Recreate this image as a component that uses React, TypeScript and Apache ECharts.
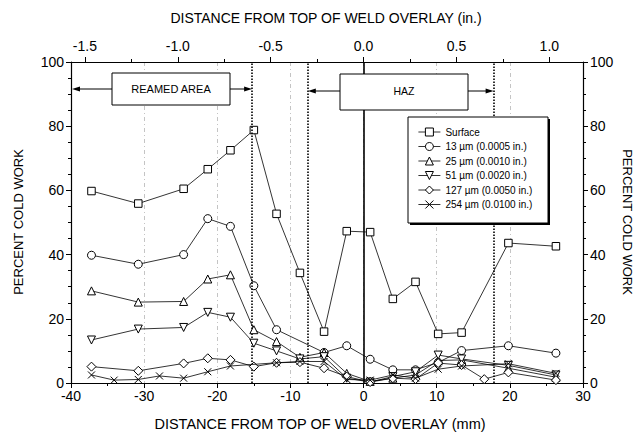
import React, { useEffect, useRef } from "react";
import * as echarts from "echarts";

// Measurement positions along the overlay (mm from top of weld overlay)
const distanceMm = [
  -37.2, -34.1, -30.8, -27.9, -24.6, -21.3, -18.2, -15.0, -11.9, -8.7,
  -5.4, -2.3, 0.9, 4.0, 7.1, 10.2, 13.4, 16.5, 19.8, 26.3,
];

// Percent cold work at each depth below the surface (null = not measured)
const surface = [59.8, null, 55.9, null, 60.5, 66.6, 72.5, 78.8, 52.7, 34.3, 16.0, 47.3, 47.0, 26.2, 31.5, 15.3, 15.7, null, 43.6, 42.6];
const depth13 = [39.8, null, 37.0, null, 40.0, 51.2, 48.8, 30.3, 16.6, null, 9.5, 11.6, 7.4, 4.1, 4.1, 6.4, 10.1, null, 11.6, 9.3];
const depth25 = [28.7, null, 25.2, null, 25.4, 32.4, 33.7, 16.6, 12.9, 8.0, 9.5, 3.0, 0.5, 1.5, 2.5, 7.0, 7.2, null, 4.6, 1.8];
const depth51 = [13.4, null, 16.8, null, 17.3, 22.0, 20.5, 12.4, 10.0, 7.5, 8.2, 1.5, 0.3, 2.0, 3.5, 8.7, 7.5, null, 5.5, 2.5];
const depth127 = [5.1, null, 3.8, null, 6.1, 7.7, 7.2, 5.1, 6.3, 6.5, 4.6, 2.0, 0.3, 1.5, 1.2, 6.2, 5.6, 1.2, 3.3, 0.9];
const depth254 = [2.5, 0.9, 1.1, 2.2, 1.5, 3.5, 5.3, null, 6.3, 6.7, 6.7, 1.1, 0.9, 2.5, 1.5, 4.3, 5.3, null, 6.0, 3.0];

const seriesNames = [
  "Surface",
  "13 \u00b5m (0.0005 in.)",
  "25 \u00b5m (0.0010 in.)",
  "51 \u00b5m (0.0020 in.)",
  "127 \u00b5m (0.0050 in.)",
  "254 \u00b5m (0.0100 in.)",
];

// Top axis (inches)
const inchLabels = [-1.5, -1.0, -0.5, 0.0, 0.5, 1.0];
const inchMinorTicks = [-1.25, -0.75, -0.25, 0.25, 0.75];
// Zone boundaries (inches): end of reamed area, start and end of HAZ
const zoneBoundariesIn = [-0.6, -0.3, 0.7];
const MM_PER_IN = 25.4;

const FONT = '"Liberation Sans", Arial, Helvetica, sans-serif';

const downTriangle = "path://M0,0L10,0L5,9Z";
const cross = "path://M0,0L10,10M10,0L0,10";

const seriesDefs = [
  { values: surface, symbol: "rect", size: 7.5 },
  { values: depth13, symbol: "circle", size: 8 },
  { values: depth25, symbol: "triangle", size: 8 },
  { values: depth51, symbol: downTriangle, size: 8 },
  { values: depth127, symbol: "diamond", size: 9 },
  { values: depth254, symbol: cross, size: 7 },
];

const markerStyle = { color: "#fff", borderColor: "#000", borderWidth: 1 };
const connectorStyle = { color: "#000", width: 0.8 };

function buildOption(): echarts.EChartsCoreOption {
  const boundaryLines = zoneBoundariesIn.map((v) => ({
    xAxis: v * MM_PER_IN,
    lineStyle: { color: "#000", width: 1.6, type: [1.5, 1.5] },
  }));

  const series = seriesDefs.map((d, i) => ({
    type: "line",
    name: seriesNames[i],
    xAxisIndex: 0,
    yAxisIndex: 0,
    data: distanceMm
      .map((x, k) => [x, d.values[k]])
      .filter((p) => p[1] !== null),
    symbol: d.symbol,
    symbolSize: d.size,
    showAllSymbol: true,
    lineStyle: connectorStyle,
    itemStyle: markerStyle,
    z: 3 + i,
    markLine:
      i === 0
        ? {
            silent: true,
            symbol: "none",
            label: { show: false },
            data: [
              { xAxis: 0, lineStyle: { color: "#000", width: 1.6, type: "solid" } },
              ...boundaryLines,
            ],
          }
        : undefined,
  }));

  const tickLabel = { color: "#000", fontSize: 14, fontFamily: FONT };
  const inchMin = -40 / MM_PER_IN;
  const inchMax = 30 / MM_PER_IN;

  return {
    animation: false,
    backgroundColor: "#fff",
    grid: { left: 71, right: 59, top: 62, bottom: 54 },
    legend: {
      orient: "vertical",
      left: 418,
      top: 127,
      itemWidth: 22,
      itemHeight: 10,
      itemGap: 4.5,
      padding: 0,
      selectedMode: false,
      z: 200,
      data: seriesNames,
      itemStyle: markerStyle,
      lineStyle: connectorStyle,
      textStyle: { color: "#000", fontSize: 10, fontFamily: FONT },
    },
    xAxis: [
      {
        type: "value",
        position: "bottom",
        min: -40,
        max: 30,
        interval: 10,
        axisLine: { onZero: false, lineStyle: { color: "#000", width: 1.2 } },
        axisTick: { inside: false, length: 5, lineStyle: { color: "#000" } },
        minorTick: { show: true, splitNumber: 2, length: 3, lineStyle: { color: "#000" } },
        axisLabel: { ...tickLabel, margin: 6 },
        splitLine: {
          show: true,
          lineStyle: { color: "#aaa", width: 0.7, type: [4, 3, 1, 3] },
        },
      },
      {
        type: "value",
        position: "top",
        min: inchMin,
        max: inchMax,
        axisLine: { onZero: false, lineStyle: { color: "#000", width: 1.2 } },
        axisTick: {
          inside: false,
          length: 5,
          customValues: inchLabels,
          lineStyle: { color: "#000" },
        },
        axisLabel: {
          ...tickLabel,
          margin: 9,
          customValues: inchLabels,
          formatter: (v: number) => v.toFixed(1),
        },
        splitLine: { show: false },
      },
      {
        type: "value",
        position: "top",
        min: inchMin,
        max: inchMax,
        axisLine: { show: false, onZero: false },
        axisTick: {
          inside: false,
          length: 3,
          customValues: inchMinorTicks,
          lineStyle: { color: "#000" },
        },
        axisLabel: { show: false },
        splitLine: { show: false },
      },
    ],
    yAxis: [
      {
        type: "value",
        position: "left",
        min: 0,
        max: 100,
        interval: 20,
        axisLine: { show: true, onZero: false, lineStyle: { color: "#000", width: 1.2 } },
        axisTick: { show: true, inside: false, length: 5, lineStyle: { color: "#000" } },
        minorTick: { show: true, splitNumber: 4, length: 3, lineStyle: { color: "#000" } },
        axisLabel: { ...tickLabel, margin: 7 },
        splitLine: { show: false },
      },
      {
        type: "value",
        position: "right",
        min: 0,
        max: 100,
        interval: 20,
        axisLine: { show: true, onZero: false, lineStyle: { color: "#000", width: 1.2 } },
        axisTick: { show: true, inside: false, length: 5, lineStyle: { color: "#000" } },
        minorTick: { show: true, splitNumber: 4, length: 3, lineStyle: { color: "#000" } },
        axisLabel: { ...tickLabel, margin: 7 },
        splitLine: { show: false },
      },
    ],
    series,
  };
}

function buildGraphics(chart: echarts.ECharts) {
  const px = (mm: number) => chart.convertToPixel({ xAxisIndex: 0 }, mm) as number;
  const axisLeft = px(-40);
  const [reamedEnd, hazStart, hazEnd] = zoneBoundariesIn.map((v) => px(v * MM_PER_IN));

  const Z = 100;
  const stroke = { stroke: "#000", lineWidth: 1 };

  const arrow = (x1: number, x2: number, y: number) => {
    const dir = Math.sign(x2 - x1);
    return [
      { type: "line", z: Z, shape: { x1, y1: y, x2: x2 - dir * 5, y2: y }, style: stroke },
      {
        type: "polygon",
        z: Z,
        shape: { points: [[x2, y], [x2 - dir * 8, y - 2.5], [x2 - dir * 8, y + 2.5]] },
        style: { fill: "#000" },
      },
    ];
  };

  const box = (x: number, y: number, w: number, h: number) => ({
    type: "rect",
    z: Z,
    shape: { x, y, width: w, height: h },
    style: { fill: "#fff", ...stroke },
  });

  const label = (text: string, x: number, y: number, size: number, rotation = 0) => ({
    type: "text",
    z: Z + 1,
    x,
    y,
    rotation,
    style: {
      text,
      fill: "#000",
      fontSize: size,
      fontFamily: FONT,
      align: "center",
      verticalAlign: "middle",
    },
  });

  const reamed = { x: 112, y: 73, w: 118, h: 32 };
  const haz = { x: 340, y: 74, w: 128, h: 36 };
  const reamedY = reamed.y + reamed.h / 2;
  const hazY = haz.y + 17;

  return [
    // Reamed-area annotation
    ...arrow(reamed.x, axisLeft + 1, reamedY),
    ...arrow(reamed.x + reamed.w, reamedEnd, reamedY),
    box(reamed.x, reamed.y, reamed.w, reamed.h),
    label("REAMED AREA", reamed.x + reamed.w / 2, reamedY, 11),
    // HAZ annotation
    ...arrow(haz.x, hazStart, hazY),
    ...arrow(haz.x + haz.w, hazEnd, hazY),
    box(haz.x, haz.y, haz.w, haz.h),
    label("HAZ", haz.x + haz.w / 2, hazY, 10.5),
    // Legend frame with drop shadow
    { type: "rect", z: Z, shape: { x: 410, y: 119, width: 140, height: 106 }, style: { fill: "#000" } },
    box(408, 117, 140, 106),
    // Axis titles
    label("DISTANCE FROM TOP OF WELD OVERLAY (in.)", 326, 18, 14),
    label("DISTANCE FROM TOP OF WELD OVERLAY (mm)", 320, 424, 14.5),
    label("PERCENT COLD WORK", 18, 222, 13, Math.PI / 2),
    label("PERCENT COLD WORK", 627, 222, 13, -Math.PI / 2),
  ];
}

export default function App() {
  const ref = useRef<HTMLDivElement>(null);

  useEffect(() => {
    document.body.style.margin = "0";
    const el = ref.current;
    if (!el) return;
    const chart = echarts.init(el, null, { renderer: "svg" });
    chart.setOption(buildOption());
    chart.setOption({ graphic: buildGraphics(chart) });
    return () => chart.dispose();
  }, []);

  return <div ref={ref} style={{ width: 642, height: 437 }} />;
}
